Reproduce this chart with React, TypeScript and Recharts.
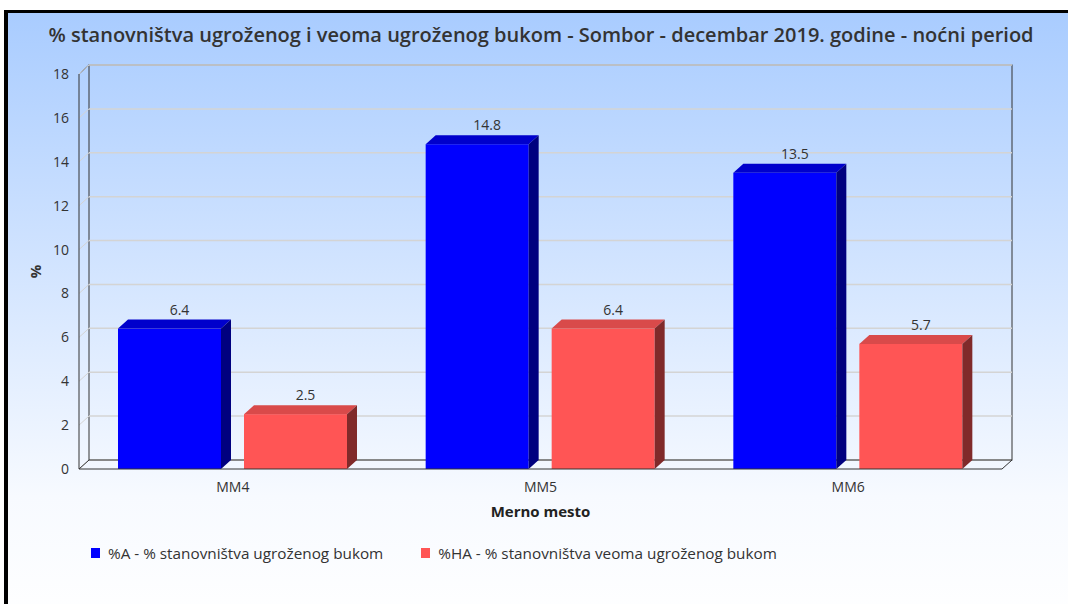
import { BarChart, Bar, XAxis, YAxis, CartesianGrid, LabelList, Legend } from "recharts";

const categories = ["MM4", "MM5", "MM6"];
const pctA = [6.4, 14.8, 13.5];
const pctHA = [2.5, 6.4, 5.7];
const yTicks = [0, 2, 4, 6, 8, 10, 12, 14, 16, 18];

const seriesA = "%A - % stanovništva ugroženog bukom";
const seriesHA = "%HA - % stanovništva veoma ugroženog bukom";

const data = categories.map((c, i) => ({ name: c, a: pctA[i], ha: pctHA[i] }));

// depth of the fake 3d
const DX = 10;
const DY = 9;
const FONT = "'Open Sans', sans-serif";

const BLUE = { front: "#0000ff", top: "#0000cc", side: "#00007f" };
const RED = { front: "#ff5555", top: "#d94a4a", side: "#802a2a" };

function Box3D(props: any) {
  const { x, y, width, height, colors } = props;
  if (!height) return null;
  const r = x + width;
  const b = y + height;
  return (
    <g>
      <rect x={x} y={y} width={width} height={height} fill={colors.front} />
      <polygon points={`${x},${y} ${x + DX},${y - DY} ${r + DX},${y - DY} ${r},${y}`} fill={colors.top} />
      <polygon points={`${r},${y} ${r + DX},${y - DY} ${r + DX},${b - DY} ${r},${b}`} fill={colors.side} />
    </g>
  );
}

function ValueLabel(props: any) {
  const { x, y, width, value } = props;
  return (
    <text x={x + width / 2 + DX} y={y - DY - 5} textAnchor="middle" fontSize={14} fontFamily={FONT} fill="#333">
      {value}
    </text>
  );
}

function GridLine(props: any) {
  const { x1, x2, y1, index, x, y, width, height } = props;
  const frame = index === 0 && height != null;
  return (
    <g>
      <line x1={x1 + DX} y1={y1 - DY} x2={x2 + DX} y2={y1 - DY} stroke="#d4d4d4" strokeWidth={1.5} />
      <line x1={x1} y1={y1} x2={x1 + DX} y2={y1 - DY} stroke="#d4d4d4" strokeWidth={1} />
      {frame && (
        <g stroke="#333" strokeWidth={1} fill="none">
          <rect x={x + DX} y={y - DY} width={width} height={height} />
          <line x1={x} y1={y} x2={x + DX} y2={y - DY} />
          <line x1={x} y1={y + height} x2={x + DX} y2={y + height - DY} />
          <line x1={x + width} y1={y + height} x2={x + width + DX} y2={y + height - DY} />
        </g>
      )}
    </g>
  );
}

function YLabel(props: any) {
  const { viewBox } = props;
  const cx = viewBox.x + 16;
  const cy = viewBox.y + viewBox.height / 2;
  return (
    <text x={cx} y={cy} transform={`rotate(-90 ${cx} ${cy})`} textAnchor="middle" dominantBaseline="central"
      fontSize={15} fontWeight={700} fontFamily={FONT} fill="#333">
      %
    </text>
  );
}

function LegendContent(props: any) {
  const { payload } = props;
  return (
    <div style={{ display: "flex", alignItems: "center", fontFamily: FONT, fontSize: 15.3, color: "#333" }}>
      {(payload || []).map((p: any, i: number) => (
        <div key={i} style={{ display: "flex", alignItems: "center", marginRight: 38 }}>
          <span style={{ display: "inline-block", width: 9, height: 10, background: p.color, marginRight: 8 }} />
          <span>{p.value}</span>
        </div>
      ))}
    </div>
  );
}

export default function App() {
  return (
    <div style={{ position: "absolute", left: 0, top: 0, width: 1068, height: 604, background: "#fff", overflow: "hidden" }}>
      <div
        style={{
          position: "absolute",
          left: 4,
          top: 10,
          width: 1100,
          height: 620,
          borderLeft: "4px solid #000",
          borderTop: "3px solid #000",
          background: "linear-gradient(180deg, #a9ccff 0%, #f7faff 78%, #ffffff 100%)",
        }}
      />
      <div
        style={{
          position: "absolute",
          left: 0,
          top: 23,
          width: 1082,
          textAlign: "center",
          fontFamily: FONT,
          fontSize: 20,
          fontWeight: 600,
          color: "#333",
          lineHeight: "24px",
          whiteSpace: "nowrap",
        }}
      >
        % stanovništva ugroženog i veoma ugroženog bukom - Sombor - decembar 2019. godine - noćni period
      </div>
      <div style={{ position: "absolute", left: 0, top: 0 }}>
        <BarChart
          width={1068}
          height={604}
          data={data}
          margin={{ top: 74, right: 66, bottom: 105, left: 19 }}
          barCategoryGap={39}
          barGap={23}
        >
          <CartesianGrid vertical={false} horizontal={GridLine} />
          <XAxis
            dataKey="name"
            height={30}
            tickLine={false}
            tickMargin={7}
            axisLine={{ stroke: "#333" }}
            tick={{ fontSize: 14, fontFamily: FONT, fill: "#333" }}
            label={{ value: "Merno mesto", position: "bottom", offset: 7, fontSize: 15, fontWeight: 700, fontFamily: FONT, fill: "#222" }}
          />
          <YAxis
            width={60}
            domain={[0, 18]}
            ticks={yTicks}
            interval={0}
            tickLine={false}
            tickMargin={4}
            axisLine={{ stroke: "#333" }}
            tick={{ fontSize: 14, fontFamily: FONT, fill: "#333" }}
            label={<YLabel />}
          />
          <Legend
            layout="vertical"
            align="center"
            verticalAlign="middle"
            content={<LegendContent />}
            wrapperStyle={{ left: 91, top: 543, width: 960, height: 22 }}
          />
          <Bar dataKey="a" name={seriesA} fill={BLUE.front} barSize={103} isAnimationActive={false}
            shape={(p: any) => <Box3D {...p} colors={BLUE} />}>
            <LabelList dataKey="a" content={<ValueLabel />} />
          </Bar>
          <Bar dataKey="ha" name={seriesHA} fill={RED.front} barSize={103} isAnimationActive={false}
            shape={(p: any) => <Box3D {...p} colors={RED} />}>
            <LabelList dataKey="ha" content={<ValueLabel />} />
          </Bar>
        </BarChart>
      </div>
    </div>
  );
}
